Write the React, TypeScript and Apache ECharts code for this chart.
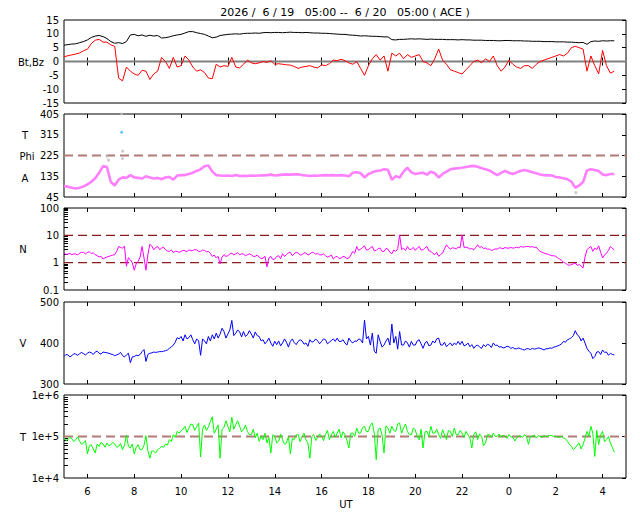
import React, { useEffect, useRef } from "react";
import * as echarts from "echarts";

const TITLE = "2026 /  6 / 19   05:00 --  6 / 20   05:00 ( ACE )";
const START_HOUR = 5;
const END_HOUR = 29;
const STEP_HOURS = 1 / 6; // samples every 10 minutes (…_MID arrays hold the readings 5 minutes later)
const X_TICKS = [6, 8, 10, 12, 14, 16, 18, 20, 22, 24, 26, 28];

// Panel 1: magnetic field (nT)
const BT = [
  5.9, 6.1, 6.3, 6.4, 6.8, 7.2, 7.8, 8.7, 9.2, 9.4,
  9.0, 8.3, 7.2, 6.6, 6.8, 6.5, 7.2, 9.6, 9.8, 9.3,
  9.6, 9.1, 9.5, 9.2, 9.4, 8.5, 8.6, 8.9, 9.3, 9.6,
  9.8, 10.3, 10.8, 10.8, 10.4, 10.1, 9.8, 9.2, 8.6, 8.8,
  9.4, 9.6, 9.8, 9.9, 10.0, 9.9, 10.1, 10.2, 10.2, 10.3,
  10.2, 10.4, 10.5, 10.4, 10.5, 10.5, 10.4, 10.5, 10.6, 10.5,
  10.5, 10.4, 10.5, 10.4, 10.3, 10.3, 10.2, 10.2, 10.1, 10.0,
  9.9, 9.8, 9.8, 9.6, 9.5, 9.4, 9.2, 9.3, 9.2, 9.1,
  9.1, 9.0, 8.9, 8.9, 7.9, 7.8, 8.0, 8.0, 8.1, 8.2,
  8.1, 8.2, 8.1, 8.0, 8.1, 8.0, 8.0, 8.0, 7.9, 7.9,
  7.9, 7.8, 7.9, 7.8, 7.8, 7.7, 7.7, 7.7, 7.6, 7.6,
  7.6, 7.5, 7.5, 7.6, 7.6, 7.5, 7.5, 7.5, 7.4, 7.4,
  7.3, 7.3, 7.3, 7.2, 7.2, 7.2, 7.1, 7.1, 7.1, 7.0,
  7.0, 6.9, 6.8, 6.9, 6.2, 7.2, 7.4, 7.3, 7.5, 7.4,
  7.5, 7.5,
];
const BZ = [
  1.7, 2.1, 2.4, 2.7, 3.1, 3.9, 4.4, 6.5, 7.7, 8.0,
  7.0, 7.0, 6.0, 5.5, -6.0, -7.0, -2.0, -3.5, -4.5, -5.0,
  -3.2, -3.5, -6.5, -4.5, -3.5, 1.5, 0.0, -2.5, 1.5, -2.0,
  -1.5, 2.0, 0.5, -2.0, -3.5, -3.0, -4.0, -6.0, -6.2, -1.0,
  -2.0, -1.5, -1.8, 1.5, -2.0, -2.3, -1.0, 0.5, -0.5, -0.8,
  -0.5, 0.0, -0.3, 0.3, -1.0, -0.8, -1.0, -1.2, -1.3, -1.8,
  -2.5, -2.0, -1.8, -1.5, -2.0, -2.3, -1.2, -1.5, -0.8, 0.5,
  0.3, 0.8, 0.3, -0.5, -1.0, 0.0, -2.5, -5.0, -1.5, 1.0,
  2.5, 0.5, 2.0, -3.5, 3.0, 2.0, 3.0, 1.0, 2.5, 1.5,
  2.0, 2.5, 0.0, -0.5, -1.5, 1.0, 4.5, 0.5, -1.0, -3.0,
  -3.5, -4.0, -4.5, -3.0, -1.5, 0.0, 0.5, -0.5, 1.0, 0.0,
  2.0, -1.5, -3.5, -2.0, 0.5, -1.0, -2.0, -2.5, -1.5, -1.5,
  -2.5, -1.0, 0.0, 0.5, 1.0, 1.5, 2.0, 2.5, 2.0, 3.0,
  5.0, 5.5, 5.0, 4.5, -3.5, 2.0, -1.5, -4.5, 4.0, -1.5,
  -4.2, -3.5,
];
const ZERO_LINE = [0];

// Panel 2: Phi angle (deg)
const PHI = [
  92, 90, 85, 82, 85, 91, 100, 111, 126, 150,
  179, 175, 110, 95, 120, 130, 128, 140, 130, 128,
  125, 135, 130, 125, 128, 122, 130, 132, 120, 138,
  140, 140, 145, 150, 158, 165, 178, 182, 155, 140,
  138, 137, 138, 136, 140, 136, 137, 136, 138, 137,
  138, 139, 140, 142, 138, 140, 142, 143, 142, 143,
  144, 140, 138, 136, 138, 137, 139, 140, 139, 140,
  138, 140, 138, 135, 150, 152, 148, 130, 145, 152,
  158, 160, 165, 163, 120, 135, 130, 155, 172, 152,
  145, 148, 150, 142, 155, 148, 130, 145, 155, 165,
  168, 170, 172, 175, 178, 180, 176, 170, 165, 160,
  150, 140, 150, 158, 150, 145, 152, 158, 162, 158,
  152, 148, 143, 140, 139, 138, 132, 130, 126, 122,
  112, 85, 95, 110, 160, 165, 162, 158, 143, 140,
  145, 145,
];
const PHI_GRAY = [[6.83, 222], [6.9, 205], [7.46, 405], [7.5, 244], [7.5, 212], [26.86, 64]];
const PHI_BLUE = [[7.46, 326]];
const PHI_REF = [225];

// Panel 3: density (p/cc)
const DENS = [
  2.24, 2.06, 1.95, 2.06, 2.24, 2.37, 2.37, 2.12, 1.95, 1.61,
  1.36, 1.61, 1.79, 1.95, 3.91, 3.4, 0.74, 1.28, 0.53, 1.12,
  3.91, 0.53, 4.75, 2.96, 3.91, 3.4, 2.96, 2.58, 2.37, 2.58,
  2.58, 2.72, 2.96, 2.8, 2.96, 2.58, 2.8, 2.58, 1.7, 1.48,
  0.9, 1.95, 1.79, 2.24, 2.12, 1.95, 2.06, 1.95, 1.95, 1.7,
  1.61, 1.48, 0.7, 1.7, 1.36, 1.79, 2.12, 1.95, 2.37, 2.12,
  2.24, 1.95, 2.24, 2.06, 2.37, 2.24, 1.95, 1.79, 1.7, 1.36,
  1.7, 1.48, 1.61, 1.48, 2.58, 3.91, 3.13, 4.14, 2.96, 3.91,
  2.8, 3.4, 2.58, 3.13, 2.12, 2.58, 10.4, 3.4, 3.91, 3.13,
  2.8, 3.91, 2.96, 3.91, 2.58, 1.95, 1.7, 2.24, 4.5, 3.13,
  3.4, 3.7, 10.5, 3.7, 3.13, 2.96, 4.5, 3.91, 3.4, 3.13,
  2.96, 3.13, 3.4, 3.6, 3.4, 3.4, 3.7, 3.91, 3.8, 3.9,
  3.91, 3.7, 2.58, 2.24, 2.06, 1.79, 1.7, 1.36, 1.03, 0.85,
  0.85, 0.97, 0.85, 0.64, 2.96, 3.91, 3.4, 4.14, 1.48, 2.24,
  3.91, 2.96,
];
const DENS_MID = [
  2.0, 2.2, 2.1, 1.9, 2.4, 2.1, 2.5, 2.3, 1.8, 1.7,
  1.5, 1.7, 1.9, 2.6, 3.6, 4.0, 1.5, 1.0, 0.9, 1.6,
  1.5, 2.0, 4.0, 3.6, 3.0, 3.7, 2.7, 2.9, 2.6, 2.4,
  2.8, 2.5, 2.7, 3.0, 2.6, 2.9, 2.5, 2.2, 1.9, 1.7,
  1.6, 1.7, 2.1, 1.9, 2.3, 2.1, 1.8, 2.1, 1.7, 1.9,
  1.4, 1.7, 1.5, 1.3, 1.7, 1.4, 1.7, 2.3, 1.8, 2.4,
  1.9, 2.3, 1.9, 2.4, 2.0, 1.9, 2.1, 1.6, 1.9, 1.6,
  1.4, 1.7, 1.4, 1.9, 2.2, 2.8, 3.6, 2.9, 3.5, 2.7,
  3.3, 2.6, 3.3, 2.4, 2.9, 3.2, 3.0, 2.8, 3.0, 3.6,
  3.4, 2.9, 3.5, 2.7, 2.2, 2.4, 2.0, 3.2, 3.6, 3.5,
  3.2, 3.5, 3.6, 3.5, 3.3, 3.6, 3.6, 3.3, 3.1, 2.8,
  3.2, 3.5, 3.2, 3.4, 3.6, 3.5, 3.5, 3.7, 3.9, 3.7,
  3.6, 3.0, 2.4, 2.1, 1.9, 1.8, 1.5, 1.2, 0.95, 0.8,
  0.9, 0.8, 0.75, 1.6, 3.5, 2.6, 3.0, 2.4, 1.9, 2.8,
  3.3,
];
const DENS_REF = [1, 10];

// Panel 4: speed (km/s)
const SPEED = [
  367, 371, 369, 373, 374, 374, 375, 376, 378, 375,
  378, 376, 373, 369, 373, 369, 371, 352, 367, 369,
  379, 355, 375, 378, 378, 379, 381, 387, 395, 413,
  416, 420, 413, 408, 410, 370, 405, 416, 420, 424,
  422, 428, 422, 455, 424, 427, 428, 420, 422, 427,
  416, 408, 404, 400, 404, 405, 400, 402, 404, 401,
  404, 405, 400, 408, 404, 405, 404, 408, 402, 410,
  412, 404, 400, 412, 400, 404, 408, 456, 416, 424,
  375, 404, 395, 412, 446, 416, 428, 395, 400, 404,
  395, 408, 387, 404, 395, 400, 412, 395, 391, 400,
  400, 404, 404, 395, 391, 387, 395, 387, 391, 395,
  400, 395, 391, 389, 391, 389, 386, 386, 383, 386,
  387, 386, 387, 383, 386, 387, 391, 395, 404, 408,
  413, 430, 416, 412, 387, 375, 367, 379, 383, 378,
  375, 371,
];
const SPEED_MID = [
  372, 366, 374, 370, 377, 371, 378, 372, 380, 373,
  377, 375, 372, 371, 377, 366, 375, 366, 370, 372,
  384, 372, 376, 377, 379, 380, 383, 390, 402, 410,
  405, 410, 420, 398, 405, 410, 398, 405, 410, 412,
  436, 412, 432, 418, 432, 415, 416, 430, 412, 418,
  405, 398, 412, 392, 396, 393, 410, 390, 410, 396,
  408, 397, 392, 402, 410, 398, 410, 398, 406, 404,
  404, 408, 395, 404, 405, 410, 400, 410, 395, 380,
  420, 390, 405, 395, 400, 385, 395, 405, 390, 395,
  405, 398, 400, 393, 405, 410, 395, 402, 396, 393,
  396, 396, 393, 400, 396, 393, 390, 396, 397, 389,
  394, 390, 388, 392, 387, 386, 388, 384, 386, 384,
  385, 388, 385, 386, 388, 390, 393, 398, 402, 410,
  418, 420, 405, 400, 380, 362, 378, 372, 377, 370,
  372,
];

// Panel 5: temperature (K)
const TEMP = [
  92000, 83900, 88700, 83900, 76500, 69700, 38000, 63500, 40000, 57900,
  65900, 69700, 63500, 65900, 57900, 48200, 108000, 52800, 38000, 63500,
  48200, 105000, 30000, 43900, 48200, 57900, 65900, 83900, 111000, 133000,
  138000, 176000, 160000, 193000, 176000, 32000, 190000, 170000, 300000, 150000,
  30000, 166000, 176000, 290000, 193000, 176000, 146000, 133000, 111000, 92000,
  76500, 83900, 69700, 40000, 101000, 76500, 83900, 69700, 38000, 83900,
  111000, 101000, 83900, 30000, 111000, 95500, 101000, 111000, 83900, 133000,
  121000, 92000, 111000, 52800, 121000, 160000, 121000, 176000, 133000, 211000,
  27700, 160000, 40000, 160000, 176000, 133000, 211000, 160000, 133000, 111000,
  146000, 83900, 52800, 133000, 176000, 121000, 111000, 146000, 83900, 133000,
  160000, 111000, 121000, 133000, 92000, 111000, 84000, 101000, 70000, 111000,
  121000, 101000, 96000, 101000, 111000, 96000, 92000, 101000, 111000, 65000,
  101000, 92000, 101000, 105000, 101000, 105000, 101000, 96000, 92000, 76000,
  58000, 53000, 70000, 64000, 133000, 176000, 33000, 64000, 133000, 84000,
  70000, 42000,
];
const TEMP_MID = [
  80000, 95000, 75000, 98000, 65000, 80000, 60000, 50000, 66000, 72000,
  55000, 60000, 72000, 55000, 68000, 62000, 58000, 66000, 55000, 48000,
  62000, 45000, 45000, 40000, 52000, 55000, 62000, 75000, 95000, 120000,
  150000, 125000, 200000, 140000, 210000, 150000, 140000, 230000, 120000, 190000,
  150000, 240000, 130000, 150000, 240000, 130000, 190000, 110000, 150000, 120000,
  100000, 120000, 95000, 110000, 70000, 115000, 65000, 100000, 90000, 110000,
  75000, 120000, 70000, 100000, 80000, 115000, 80000, 140000, 110000, 95000,
  150000, 130000, 80000, 120000, 100000, 120000, 165000, 130000, 190000, 120000,
  150000, 110000, 180000, 120000, 140000, 200000, 120000, 200000, 110000, 160000,
  100000, 150000, 130000, 100000, 120000, 150000, 90000, 110000, 140000, 100000,
  110000, 140000, 95000, 110000, 53000, 130000, 115000, 60000, 110000, 95000,
  100000, 115000, 108000, 90000, 98000, 78000, 104000, 96000, 100000, 100000,
  108000, 104000, 96000, 100000, 106000, 100000, 96000, 100000, 88000, 65000,
  48000, 62000, 50000, 90000, 100000, 120000, 140000, 110000, 75000, 100000,
  55000,
];
const TEMP_REF = [100000];

// Axis ticks / labels
const BFIELD_RANGE = [-15, 15];
const PHI_TICKS = [45, 135, 225, 315, 405];
const DENS_TICKS = [0.1, 1, 10, 100];
const DENS_MINOR = [0.2, 0.3, 0.4, 0.5, 0.6, 0.7, 0.8, 0.9, 1, 2, 3, 4, 5, 6, 7, 8, 9, 10, 20, 30, 40, 50, 60, 70, 80, 90, 100];
const SPEED_RANGE = [300, 500];
const TEMP_TICKS = [10000, 100000, 1000000];
const TEMP_MINOR = [20000, 30000, 40000, 50000, 60000, 70000, 80000, 90000, 100000, 200000, 300000, 400000, 500000, 600000, 700000, 800000, 900000];

const FONT = "DejaVu Sans";

export default function App() {
  const ref = useRef<HTMLDivElement>(null);
  useEffect(() => {
    document.body.style.margin = "0";
    const chart = echarts.init(ref.current!, null, { renderer: "svg" });
    const grids = [
      { top: 20, height: 83 },
      { top: 114, height: 83 },
      { top: 208, height: 82 },
      { top: 302, height: 82 },
      { top: 395, height: 83 },
    ].map((g) => ({ left: 64, width: 562, top: g.top, height: g.height, show: true, borderColor: "#000", borderWidth: 1, backgroundColor: "transparent" }));

    const tick = (values?: number[]) => ({ show: true, inside: true, length: 4, lineStyle: { color: "#000", width: 1 }, ...(values ? { customValues: values } : {}) });
    const xAxes: any[] = [];
    grids.forEach((_, gi) => {
      const last = gi === grids.length - 1;
      xAxes.push({
        type: "value", gridIndex: gi, min: START_HOUR, max: END_HOUR, position: "bottom",
        axisLine: { show: false }, splitLine: { show: false },
        axisTick: tick(X_TICKS),
        axisLabel: last
          ? { show: true, customValues: X_TICKS, formatter: (v: number) => String(v % 24), fontSize: 10, color: "#000", margin: 8, fontFamily: FONT }
          : { show: false },
      });
      xAxes.push({
        type: "value", gridIndex: gi, min: START_HOUR, max: END_HOUR, position: "top",
        axisLine: { show: false }, splitLine: { show: false },
        axisTick: tick(X_TICKS), axisLabel: { show: false },
      });
    });

    const lbl = (extra: any = {}) => ({ show: true, fontSize: 10, color: "#000", margin: 5, fontFamily: FONT, showMinLabel: true, showMaxLabel: true, ...extra });
    const yAxes: any[] = [
      { type: "value", gridIndex: 0, min: BFIELD_RANGE[0], max: BFIELD_RANGE[1], interval: 5, axisTick: { show: false }, axisLabel: lbl() },
      { type: "value", gridIndex: 0, position: "right", min: BFIELD_RANGE[0], max: BFIELD_RANGE[1], interval: 5, axisTick: tick(), axisLabel: { show: false } },
      { type: "value", gridIndex: 1, min: PHI_TICKS[0], max: PHI_TICKS[PHI_TICKS.length - 1], axisTick: { show: false }, axisLabel: lbl({ customValues: PHI_TICKS }) },
      { type: "value", gridIndex: 1, position: "right", min: PHI_TICKS[0], max: PHI_TICKS[PHI_TICKS.length - 1], axisTick: tick(PHI_TICKS), axisLabel: { show: false } },
      { type: "log", logBase: 10, gridIndex: 2, min: DENS_TICKS[0], max: DENS_TICKS[DENS_TICKS.length - 1], axisTick: tick(DENS_MINOR), axisLabel: lbl({ customValues: DENS_TICKS, formatter: (v: number) => String(v) }) },
      { type: "log", logBase: 10, gridIndex: 2, position: "right", min: DENS_TICKS[0], max: DENS_TICKS[DENS_TICKS.length - 1], axisTick: tick(DENS_TICKS), axisLabel: { show: false } },
      { type: "value", gridIndex: 3, min: SPEED_RANGE[0], max: SPEED_RANGE[1], interval: 100, axisTick: { show: false }, axisLabel: lbl() },
      { type: "value", gridIndex: 3, position: "right", min: SPEED_RANGE[0], max: SPEED_RANGE[1], interval: 100, axisTick: tick(), axisLabel: { show: false } },
      { type: "log", logBase: 10, gridIndex: 4, min: TEMP_TICKS[0], max: TEMP_TICKS[TEMP_TICKS.length - 1], axisTick: tick(TEMP_MINOR), axisLabel: lbl({ customValues: TEMP_TICKS, formatter: (v: number) => "1e+" + Math.round(Math.log10(v)) }) },
      { type: "log", logBase: 10, gridIndex: 4, position: "right", min: TEMP_TICKS[0], max: TEMP_TICKS[TEMP_TICKS.length - 1], axisTick: tick(TEMP_TICKS), axisLabel: { show: false } },
    ].map((a) => ({ ...a, axisLine: { show: false }, splitLine: { show: false } }));

    const pairs = (arr: number[], mid?: number[]) => {
      const out: number[][] = [];
      arr.forEach((v, i) => {
        const t = START_HOUR + i * STEP_HOURS;
        out.push([t, v]);
        if (mid && i < mid.length) out.push([t + STEP_HOURS / 2, mid[i]]);
      });
      return out;
    };
    const line = (gi: number, data: any[], color: string, width: number, extra: any = {}) => ({
      type: "line", xAxisIndex: 2 * gi, yAxisIndex: 2 * gi, data, symbol: "none", showSymbol: false, silent: true,
      lineStyle: { color, width, ...(extra.lineStyle || {}) }, itemStyle: { color }, z: extra.z ?? 2,
    });
    const refLine = (gi: number, v: number, color: string, width: number, dash: number[] | "solid") =>
      line(gi, [[START_HOUR, v], [END_HOUR, v]], color, width, { lineStyle: { type: dash }, z: 1 });

    const series: any[] = [
      refLine(0, ZERO_LINE[0], "#808080", 2, "solid"),
      line(0, pairs(BT), "#000000", 1),
      line(0, pairs(BZ), "#ff0000", 1),
      refLine(1, PHI_REF[0], "#b47a76", 2, [9, 5]),
      line(1, pairs(PHI), "#ff80ff", 2.6),
      { type: "scatter", xAxisIndex: 2, yAxisIndex: 2, data: PHI_GRAY, symbolSize: 3, itemStyle: { color: "#bbbbbb" }, silent: true },
      { type: "scatter", xAxisIndex: 2, yAxisIndex: 2, data: PHI_BLUE, symbolSize: 3, itemStyle: { color: "#40b8ff" }, silent: true },
      ...DENS_REF.map((v) => refLine(2, v, "#8c1c1c", 1.2, [9, 5])),
      line(2, pairs(DENS, DENS_MID), "#ff00ff", 1),
      line(3, pairs(SPEED, SPEED_MID), "#0000ff", 1),
      refLine(4, TEMP_REF[0], "#b47a76", 2, [9, 5]),
      line(4, pairs(TEMP, TEMP_MID), "#00ff00", 1),
    ];

    const txt = (text: string, x: number, y: number, align: string = "center", size = 10) => ({
      type: "text", x, y, silent: true,
      style: { text, fill: "#000", font: `${size}px '${FONT}'`, textAlign: align, textVerticalAlign: "middle" },
    });

    chart.setOption({
      animation: false,
      textStyle: { fontFamily: FONT },
      grid: grids,
      xAxis: xAxes,
      yAxis: yAxes,
      series,
      graphic: [
        txt(TITLE, 345, 12, "center", 11),
        txt("Bt,Bz", 44, 62, "right"),
        txt("T", 25, 135),
        txt("Phi", 27, 156),
        txt("A", 25, 178),
        txt("N", 23, 249),
        txt("V", 23, 343),
        txt("T", 23, 437),
        txt("UT", 346, 504),
      ],
    });
    return () => chart.dispose();
  }, []);
  return <div ref={ref} style={{ width: 640, height: 512 }} />;
}
